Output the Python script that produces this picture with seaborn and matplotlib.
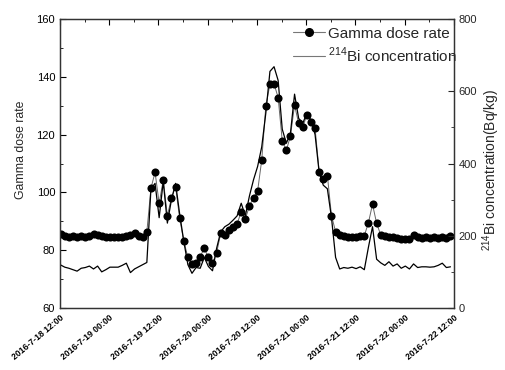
import pandas as pd
import numpy as np
import matplotlib
matplotlib.use("Agg")
import matplotlib.pyplot as plt
import matplotlib.dates as mdates
from matplotlib.lines import Line2D
from matplotlib.ticker import MultipleLocator, FuncFormatter
import seaborn as sns

# hourly readings starting 2016-07-18 12:10
gamma = [85.6, 85.0, 84.6, 84.9, 84.5, 84.8, 84.6, 84.9, 85.6, 85.2, 84.8, 84.6, 84.4, 84.7, 84.5, 84.6,
         84.9, 85.3, 86.1, 85.0, 84.7,
         86.4, 101.4, 107.0, 96.2, 104.3, 92.0, 98.0, 102.0, 91.0, 83.2, 77.5, 75.1, 75.7, 77.8, 80.6,
         77.5, 75.5, 79.1, 85.8, 85.3, 87.0, 88.1, 89.1, 93.3, 90.8, 95.3, 98.2, 100.5, 111.2,
         129.9, 137.4, 137.6, 132.8, 117.9, 114.5, 119.6, 130.2, 123.9, 122.6, 126.8, 124.5, 122.2,
         107.2, 104.5, 105.8, 92.0, 86.4,
         85.3, 85.0, 84.6, 84.5, 84.7, 85.0, 85.0, 89.5, 95.9, 89.3,
         85.3, 84.9, 84.6, 84.4, 84.2, 84.0, 83.9, 84.0, 85.2, 84.6, 84.3, 84.5, 84.2, 84.4, 84.3,
         84.5, 84.1, 84.9]

bi214 = [119, 113, 110, 106, 102, 110, 112, 116, 108, 116, 100, 106, 113, 113, 113, 118, 124, 98, 108,
         114, 120, 126,
         330, 345, 250, 350, 235, 300, 345, 260, 185, 120, 96, 112, 110, 140, 115, 103, 165, 211, 225,
         232, 243, 255, 290, 255, 310, 355, 392, 446,
         540, 655, 668, 630, 495, 456, 484, 592, 525, 511, 540, 520, 480, 375, 340, 330, 250, 140,
         108, 112, 110, 113, 109, 114, 106, 168, 225, 135,
         125, 118, 128, 116, 122, 110, 116, 108, 122, 112, 114, 114, 113, 114, 118, 124, 112, 114]

times = pd.date_range("2016-07-18 12:10", periods=len(gamma), freq="h")
df = pd.DataFrame({"time": times, "gamma": gamma, "bi": bi214})

sns.set_style("white")
plt.rcParams["font.family"] = ["Liberation Sans", "DejaVu Sans"]
plt.rcParams["mathtext.fontset"] = "custom"
plt.rcParams["mathtext.rm"] = "Liberation Sans"

fig = plt.figure(figsize=(5.05, 3.7), dpi=100)
ax = fig.add_axes([0.1188, 0.1676, 0.780, 0.781])
ax2 = ax.twinx()

sns.lineplot(data=df, x="time", y="gamma", ax=ax, color="#666666", lw=0.7)
sns.scatterplot(data=df, x="time", y="gamma", ax=ax, color="black", s=34, edgecolor="black", linewidth=0, zorder=3)
sns.lineplot(data=df, x="time", y="bi", ax=ax2, color="black", lw=0.9)

ax.set_xlim(pd.Timestamp("2016-07-18 12:00"), pd.Timestamp("2016-07-22 12:00"))
ax.set_ylim(60, 160)
ax2.set_ylim(0, 800)

ax.xaxis.set_major_locator(mdates.HourLocator(byhour=[0, 12]))
ax.xaxis.set_minor_locator(mdates.HourLocator(byhour=[6, 18]))
ax.xaxis.set_major_formatter(FuncFormatter(
    lambda v, p: (lambda d: f"{d.year}-{d.month}-{d.day} {d:%H:%M}")(mdates.num2date(v))))
ax.yaxis.set_major_locator(MultipleLocator(20))
ax.yaxis.set_minor_locator(MultipleLocator(10))
ax2.yaxis.set_major_locator(MultipleLocator(200))
ax2.yaxis.set_minor_locator(MultipleLocator(100))

ax.tick_params(which="both", direction="in", top=True, colors="black", labelsize=8)
ax.tick_params(which="major", length=4)
ax.tick_params(which="minor", length=2.5)
ax2.tick_params(which="both", direction="in", labelsize=8)
ax2.tick_params(which="major", length=4)
ax2.tick_params(which="minor", length=2.5)

for lab in ax.get_xticklabels():
    lab.set_rotation(40)
    lab.set_ha("right")
    lab.set_rotation_mode("anchor")
    lab.set_fontsize(6.2)
    lab.set_fontweight("bold")

for a in (ax, ax2):
    for sp in a.spines.values():
        sp.set_color("#333333")
        sp.set_linewidth(0.9)

ax.set_xlabel("")
ax.set_ylabel("Gamma dose rate", fontsize=8.8)
ax.yaxis.set_label_coords(-0.085, 0.547)
ax2.set_ylabel(r"$^{214}$Bi concentration(Bq/kg)", fontsize=10)
ax2.yaxis.set_label_coords(1.068, 0.477)

handles = [Line2D([], [], color="#777777", lw=0.8, marker="o", markersize=5.5,
                  markerfacecolor="black", markeredgecolor="black"),
           Line2D([], [], color="#777777", lw=0.8)]
ax2.legend(handles, ["Gamma dose rate", r"$^{214}$Bi concentration"], loc="upper right",
           bbox_to_anchor=(1.035, 1.01), frameon=False, fontsize=11, handlelength=2.1,
           handletextpad=0.2, labelspacing=0.3, borderaxespad=0.3)

fig.savefig("out.png", dpi=100)
